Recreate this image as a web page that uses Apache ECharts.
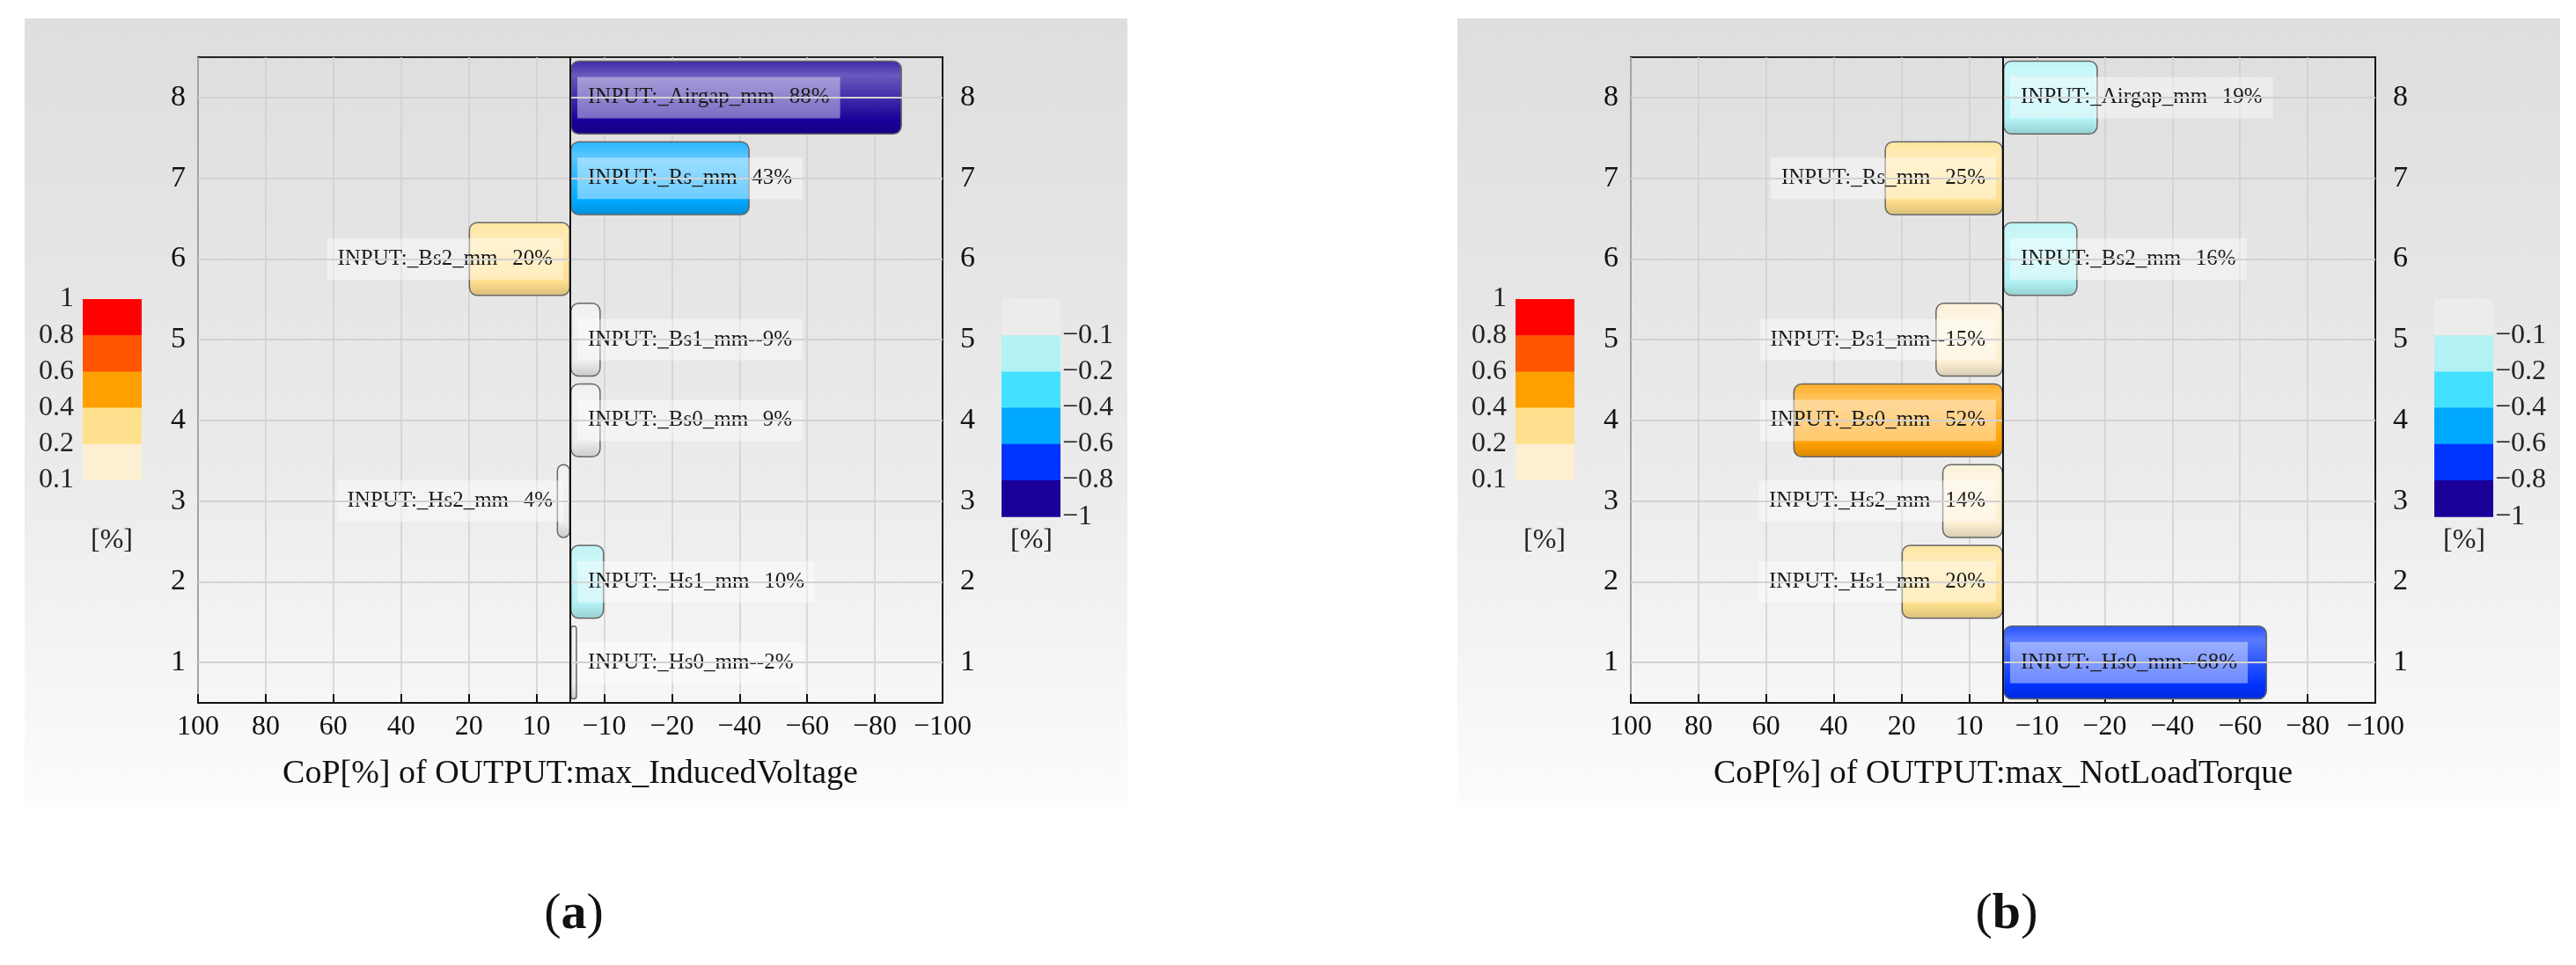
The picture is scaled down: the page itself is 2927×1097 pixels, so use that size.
<!DOCTYPE html>
<html><head><meta charset="utf-8">
<script src="https://cdn.jsdelivr.net/npm/echarts@6/dist/echarts.min.js"></script>
<style>html,body{margin:0;padding:0;background:#fff}#c{width:2927px;height:1097px}</style>
</head><body><div id="c"></div>
<script>
// ---- data ----
const categories = ['1','2','3','4','5','6','7','8'];
const paramNames = ['Hs0','Hs1','Hs2','Bs0','Bs1','Bs2','Rs','Airgap'];
const valuesA = [-2, -10, 4, -9, -9, 20, -43, -88];
const valuesB = [-68, 20, 14, 52, 15, -16, 25, -19];
const titleA = 'CoP[%] of OUTPUT:max_InducedVoltage';
const titleB = 'CoP[%] of OUTPUT:max_NotLoadTorque';
const xTickLabels = ['100','80','60','40','20','10','\u221210','\u221220','\u221240','\u221260','\u221280','\u2212100'];
const posColorbarLabels = ['1','0.8','0.6','0.4','0.2','0.1'];
const negColorbarLabels = ['\u22120.1','\u22120.2','\u22120.4','\u22120.6','\u22120.8','\u22121'];
const posColors = ['#ff0000','#ff5500','#ffa000','#ffe08e','#fcefd2','#ececec']; // top->bottom
const negColors = ['#ececec','#b2f2f4','#44e0ff','#00a8ff','#0033ff','#1a0099']; // top->bottom

// ---- axis transform (piecewise scale of the original) ----
function g(a){ return a<=10 ? a/20 : (a<=20 ? 0.5+(a-10)/10 : 1.5+(a-20)/20); }
function f(v){ return Math.sign(v)*g(Math.abs(v)); }
const tickPos = [5.5,4.5,3.5,2.5,1.5,0.5,-0.5,-1.5,-2.5,-3.5,-4.5,-5.5];

function mix(hex, t, target){
  const n=parseInt(hex.slice(1),16); let r=n>>16,gg=(n>>8)&255,b=n&255;
  const tv=target==='w'?255:0;
  r=Math.round(r+(tv-r)*t); gg=Math.round(gg+(tv-gg)*t); b=Math.round(b+(tv-b)*t);
  return 'rgb('+r+','+gg+','+b+')';
}
function colorFor(v){
  const a=Math.abs(v)/100;
  const lvl = a<0.1?0 : a<0.2?1 : a<0.4?2 : a<0.6?3 : a<0.8?4 : 5;
  if(v>=0) return posColors[5-lvl];
  return negColors[lvl];
}

const FONT='Liberation Serif';
const chart=echarts.init(document.getElementById('c'));
const grids=[],xAxes=[],yAxes=[],series=[],graphics=[];

function panel(idx, offset, values, title, tag){
  const left=225+offset, width=846, top=65, height=734;
  grids.push({left:left, width:width, top:top, height:height, show:true, borderColor:'#222', borderWidth:2, backgroundColor:'rgba(0,0,0,0)'});
  xAxes.push({gridIndex:idx, type:'value', inverse:true, min:-5.5, max:5.5, interval:1,
    axisLine:{show:true,lineStyle:{color:'#111',width:2}},
    axisTick:{show:true,inside:true,length:10,lineStyle:{color:'#111',width:2}},
    splitLine:{show:true,lineStyle:{color:'#cfcfcf',width:1.5}},
    axisLabel:{fontFamily:FONT,fontSize:32,color:'#111',margin:12,
      formatter:function(val){const i=tickPos.findIndex(p=>Math.abs(p-val)<1e-6);return i>=0?xTickLabels[i]:'';}},
    name:title, nameLocation:'middle', nameGap:62, nameTextStyle:{fontFamily:FONT,fontSize:38,color:'#111'}});
  yAxes.push({gridIndex:idx, type:'category', data:categories, position:'left',
    axisLine:{show:true,lineStyle:{color:'#111',width:2}},
    axisTick:{show:true,inside:true,alignWithLabel:true,length:6,lineStyle:{color:'#111',width:2}},
    axisLabel:{fontFamily:FONT,fontSize:34,color:'#111',margin:14}, splitLine:{show:false}});
  yAxes.push({gridIndex:idx, type:'category', data:categories, position:'right',
    axisLine:{show:true,lineStyle:{color:'#111',width:2}},
    axisTick:{show:true,inside:true,alignWithLabel:true,length:6,lineStyle:{color:'#111',width:2}},
    axisLabel:{fontFamily:FONT,fontSize:34,color:'#111',margin:20}, splitLine:{show:false}});
  const yi=idx*2;
  series.push({type:'line', xAxisIndex:idx, yAxisIndex:yi, data:[], z:1, silent:true,
    markLine:{silent:true, symbol:'none', label:{show:false}, animation:false,
      lineStyle:{color:'#d2d2d2',width:2,type:'solid'},
      data:categories.map(c=>({yAxis:c}))}});
  series.push({type:'bar', xAxisIndex:idx, yAxisIndex:yi, z:3, barWidth:'92%', animation:false,
    data:values.map((v,i)=>{
      const base=colorFor(v);
      return {value:f(v),
        itemStyle:{borderRadius:9, borderColor:'#666', borderWidth:1.5,
          color:{type:'linear',x:0,y:0,x2:0,y2:1,colorStops:[
            {offset:0,color:mix(base,0.15,'w')},{offset:0.2,color:mix(base,0.35,'w')},
            {offset:0.8,color:base},{offset:1,color:mix(base,0.15,'b')}]}},
        label:{show:true, position: v>=0?'insideRight':'insideLeft', distance:8,
          formatter:'INPUT:_'+paramNames[i]+'_mm--'+Math.abs(v)+'%',
          fontFamily:FONT,fontSize:25,color:'#1a1a1a',
          backgroundColor:'rgba(255,255,255,0.42)',padding:[11,12]}};
    }),
    markLine:{silent:true,symbol:'none',label:{show:false},animation:false,
      lineStyle:{color:'#111',width:2,type:'solid'},data:[{xAxis:0}]}});
  // panel background
  graphics.push({type:'rect',z:-10,shape:{x:28+offset,y:21,width:1253,height:896},
    style:{fill:{type:'linear',x:0,y:0,x2:0,y2:1,colorStops:[{offset:0,color:'#dedede'},{offset:0.6,color:'#ececec'},{offset:1,color:'#fcfcfc'}]}}});
  // colorbars
  const cbTop=340, seg=41.2;
  posColors.forEach((c,k)=>graphics.push({type:'rect',z:5,shape:{x:94+offset,y:cbTop+k*seg,width:67,height:seg+0.5},style:{fill:c}}));
  posColorbarLabels.forEach((t,k)=>graphics.push({type:'text',z:6,x:84+offset,y:cbTop+k*seg,
    style:{text:t,fontFamily:FONT,fontSize:32,fill:'#222',align:'right',verticalAlign:'middle'}}));
  graphics.push({type:'text',z:6,x:127+offset,y:615,style:{text:'[%]',fontFamily:FONT,fontSize:32,fill:'#222',align:'center',verticalAlign:'middle'}});
  negColors.forEach((c,k)=>graphics.push({type:'rect',z:5,shape:{x:1138+offset,y:cbTop+k*seg,width:67,height:seg+0.5},style:{fill:c}}));
  negColorbarLabels.forEach((t,k)=>graphics.push({type:'text',z:6,x:1207+offset,y:cbTop+(k+1)*seg,
    style:{text:t,fontFamily:FONT,fontSize:32,fill:'#222',align:'left',verticalAlign:'middle'}}));
  graphics.push({type:'text',z:6,x:1172+offset,y:615,style:{text:'[%]',fontFamily:FONT,fontSize:32,fill:'#222',align:'center',verticalAlign:'middle'}});
  // panel tag
  graphics.push({type:'text',z:6,x:652+offset,y:1040,style:{
    text:'({b|'+tag+'})',rich:{b:{fontFamily:FONT,fontSize:58,fontWeight:'bold',fill:'#111'}},
    fontFamily:FONT,fontSize:58,fill:'#111',align:'center',verticalAlign:'middle'}});
}
panel(0,0,valuesA,titleA,'a');
panel(1,1628,valuesB,titleB,'b');

chart.setOption({animation:false, backgroundColor:'#fff', grid:grids, xAxis:xAxes, yAxis:yAxes, series:series, graphic:graphics});
</script></body></html>
